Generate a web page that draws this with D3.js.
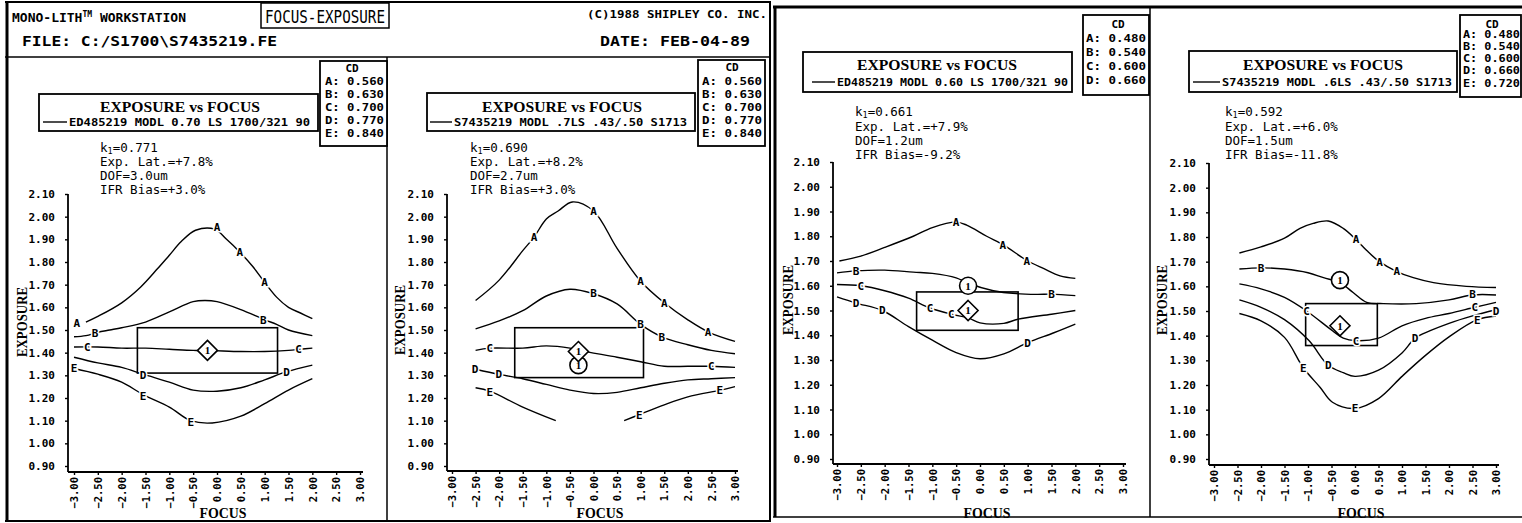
<!DOCTYPE html>
<html>
<head>
<meta charset="utf-8">
<script src="https://cdn.jsdelivr.net/npm/d3@7"></script>
<style>
  body { margin: 0; background: #fff; }
  svg { display: block; }
</style>
</head>
<body>
<div id="chart"></div>
<script>
var width = 1522;
var height = 523;

var monoFont = "'DejaVu Sans Mono', monospace";
var serifFont = "'Liberation Serif', 'DejaVu Serif', serif";

// axis ticks
var focusTicks = [-3, -2.5, -2, -1.5, -1, -0.5, 0, 0.5, 1, 1.5, 2, 2.5, 3];
var exposureTicks = [0.9, 1.0, 1.1, 1.2, 1.3, 1.4, 1.5, 1.6, 1.7, 1.8, 1.9, 2.0, 2.1];

// ---- panel 1 : ED485219 0.70 ----
var p1Legend = "ED485219 MODL 0.70 LS 1700/321 90";
var p1CD = [["A", "0.560"], ["B", "0.630"], ["C", "0.700"], ["D", "0.770"], ["E", "0.840"]];
var p1Stats = ["0.771", "+7.8%", "3.0um", "+3.0%"];
var p1A = [[-2.75,1.535],[-2.5,1.56],[-2,1.62],[-1.6,1.69],[-1.25,1.77],[-1,1.83],[-0.75,1.89],[-0.45,1.94],[-0.05,1.945],[0.2,1.9],[0.45,1.85],[0.75,1.78],[1,1.71],[1.25,1.645],[1.5,1.6],[1.75,1.575],[2,1.55]];
var p1B = [[-3,1.47],[-2.75,1.475],[-2.5,1.49],[-2.25,1.5],[-2,1.51],[-1.5,1.535],[-1,1.58],[-0.5,1.625],[-0.25,1.63],[0,1.625],[0.5,1.59],[1,1.545],[1.25,1.525],[1.5,1.5],[2,1.475]];
var p1C = [[-3,1.425],[-2.5,1.425],[-2,1.42],[-1.5,1.42],[-1,1.415],[-0.5,1.41],[-0.2,1.41],[0.5,1.405],[1,1.405],[1.5,1.41],[1.75,1.415],[2,1.42]];
var p1D = [[-3,1.38],[-2.5,1.355],[-2,1.335],[-1.55,1.305],[-1,1.27],[-0.5,1.235],[0,1.23],[0.5,1.245],[1,1.28],[1.45,1.315],[2,1.345]];
var p1E = [[-3,1.33],[-2.5,1.305],[-2,1.27],[-1.55,1.215],[-1,1.16],[-0.55,1.1],[-0.1,1.09],[0.5,1.12],[1,1.175],[1.5,1.235],[2,1.285]];
var p1Marks = [["A",-2.94,1.531],["A",0,1.955],["A",0.48,1.845],["A",1,1.71],
  ["B",-2.56,1.487],["B",0.97,1.543],["C",-2.72,1.425],["C",1.71,1.415],
  ["D",-1.55,1.3],["D",1.46,1.315],["E",-3,1.33],["E",-1.55,1.21],["E",-0.55,1.095]];
var p1Window = [-1.67, 1.27, 1.31, 1.51];
var p1Diamond = [-0.2, 1.41];
var p1Circle = null;

// ---- panel 2 : S7435219 .7 ----
var p2Legend = "S7435219 MODL .7LS .43/.50 S1713";
var p2CD = [["A", "0.560"], ["B", "0.630"], ["C", "0.700"], ["D", "0.770"], ["E", "0.840"]];
var p2Stats = ["0.690", "+8.2%", "2.7um", "+3.0%"];
var p2A = [[-2.5,1.63],[-2,1.72],[-1.5,1.85],[-1.26,1.91],[-1,1.99],[-0.75,2.025],[-0.45,2.065],[0,2.025],[0.5,1.86],[1,1.715],[1.5,1.62],[2,1.545],[2.45,1.49],[3,1.45]];
var p2B = [[-2.5,1.505],[-2,1.54],[-1.5,1.585],[-1,1.65],[-0.5,1.68],[0,1.66],[0.5,1.615],[1,1.525],[1.45,1.47],[2,1.435],[2.5,1.41],[3,1.395]];
var p2C = [[-2.5,1.41],[-2.2,1.42],[-1.5,1.42],[-1,1.43],[-0.5,1.42],[-0.3,1.41],[0.5,1.38],[1,1.36],[1.5,1.34],[2,1.34],[2.5,1.34],[3,1.335]];
var p2D = [[-2.5,1.327],[-2,1.304],[-1.5,1.285],[-1,1.26],[-0.5,1.235],[0,1.22],[0.5,1.225],[1,1.245],[1.5,1.265],[2,1.28],[2.5,1.285],[3,1.29]];
var p2E1 = [[-2.5,1.245],[-2.2,1.23],[-1.5,1.16],[-0.8,1.1]];
var p2E2 = [[0.65,1.1],[0.95,1.125],[1.5,1.17],[2,1.205],[2.7,1.235],[3,1.25]];
var p2Marks = [["A",-1.26,1.91],["A",0,2.025],["A",1,1.715],["A",1.5,1.62],["A",2.43,1.49],
  ["B",0,1.665],["B",1,1.525],["B",1.45,1.47],["C",-2.2,1.42],["C",2.5,1.34],
  ["D",-2.51,1.327],["D",-2.01,1.304],["E",-2.2,1.228],["E",0.97,1.125],["E",2.68,1.235]];
var p2Window = [-1.67, 1.06, 1.29, 1.51];
var p2Diamond = [-0.32, 1.405];
var p2Circle = [-0.32, 1.345];

// ---- panel 3 : ED485219 0.60 ----
var p3Legend = "ED485219 MODL 0.60 LS 1700/321 90";
var p3CD = [["A", "0.480"], ["B", "0.540"], ["C", "0.600"], ["D", "0.660"]];
var p3Stats = ["0.661", "+7.9%", "1.2um", "-9.2%"];
var p3A = [[-2.95,1.7],[-2.5,1.72],[-2,1.755],[-1.4,1.8],[-1,1.835],[-0.5,1.857],[-0.28,1.845],[0.14,1.8],[0.5,1.764],[0.84,1.72],[1,1.7],[1.33,1.67],[1.68,1.64],[2,1.63]];
var p3B = [[-3,1.652],[-2.6,1.66],[-2,1.663],[-1.4,1.655],[-1,1.65],[-0.5,1.632],[-0.25,1.61],[0.28,1.58],[0.76,1.568],[1.2,1.565],[1.5,1.566],[2,1.56]];
var p3C = [[-3,1.605],[-2.5,1.6],[-2,1.58],[-1.5,1.55],[-1.05,1.51],[-0.6,1.485],[-0.25,1.47],[0,1.45],[0.5,1.448],[0.8,1.465],[1.5,1.485],[2,1.5]];
var p3D = [[-3,1.555],[-2.6,1.53],[-2.05,1.5],[-1.5,1.435],[-1,1.38],[-0.5,1.33],[0,1.305],[0.5,1.325],[1,1.37],[1.55,1.41],[2,1.445]];
var p3Marks = [["A",-0.5,1.857],["A",0.48,1.764],["A",0.98,1.7],["B",-2.6,1.66],["B",1.5,1.566],
  ["C",-2.5,1.6],["C",-1.05,1.51],["C",-0.6,1.485],["D",-2.6,1.53],["D",-2.05,1.5],["D",1,1.37]];
var p3Window = [-1.33, 0.8, 1.42, 1.575];
var p3Diamond = [-0.25, 1.5];
var p3Circle = [-0.25, 1.6];

// ---- panel 4 : S7435219 .6 ----
var p4Legend = "S7435219 MODL .6LS .43/.50 S1713";
var p4CD = [["A", "0.480"], ["B", "0.540"], ["C", "0.600"], ["D", "0.660"], ["E", "0.720"]];
var p4Stats = ["0.592", "+6.0%", "1.5um", "-11.8%"];
var p4A = [[-2.46,1.735],[-2,1.76],[-1.5,1.795],[-1.17,1.835],[-0.89,1.855],[-0.57,1.865],[-0.25,1.835],[0.02,1.79],[0.25,1.745],[0.52,1.7],[0.89,1.66],[1.24,1.635],[1.67,1.615],[2.37,1.6],[3,1.595]];
var p4B = [[-2.46,1.67],[-2,1.675],[-1.5,1.67],[-1,1.655],[-0.67,1.635],[-0.32,1.615],[-0.04,1.575],[0.25,1.535],[0.6,1.53],[1.3,1.53],[2,1.545],[2.5,1.565],[3,1.565]];
var p4C = [[-2.46,1.61],[-2,1.59],[-1.5,1.555],[-1.03,1.5],[-0.48,1.42],[-0.25,1.39],[0.02,1.38],[0.5,1.39],[1,1.44],[1.5,1.47],[2,1.49],[2.55,1.515],[3,1.535]];
var p4D = [[-2.46,1.545],[-2,1.515],[-1.5,1.465],[-0.98,1.38],[-0.57,1.28],[-0.25,1.25],[0,1.235],[0.5,1.26],[1,1.33],[1.28,1.39],[1.6,1.42],[2,1.45],[2.5,1.48],[3,1.505]];
var p4E = [[-2.46,1.49],[-2,1.46],[-1.5,1.393],[-1.1,1.27],[-0.74,1.19],[-0.48,1.13],[0,1.105],[0.5,1.145],[1,1.235],[1.5,1.32],[2,1.395],[2.6,1.465],[3,1.48]];
var p4Marks = [["A",0.02,1.79],["A",0.52,1.7],["A",0.89,1.66],["B",-2,1.675],["B",2.5,1.567],
  ["C",-1.03,1.5],["C",0.02,1.38],["C",2.55,1.515],["D",-0.57,1.28],["D",1.28,1.39],["D",3,1.5],
  ["E",-1.1,1.27],["E",0,1.105],["E",2.6,1.462]];
var p4Window = [-1.05, 0.475, 1.36, 1.53];
var p4Diamond = [-0.32, 1.44];
var p4Circle = [-0.32, 1.625];

var svg = d3.select('#chart').append('svg')
  .attr('width', width).attr('height', height);

svg.append('rect').attr('width', width).attr('height', height).attr('fill', '#fff');

// ---- frames ----
function frameLine(x1, y1, x2, y2, w) {
  svg.append('line')
    .attr('x1', x1).attr('y1', y1).attr('x2', x2).attr('y2', y2)
    .attr('stroke', '#000').attr('stroke-width', w);
}
frameLine(7, 2, 7, 522, 3);      // left frame
frameLine(5, 2, 771, 2, 2);
frameLine(5, 521, 771, 521, 2);
frameLine(770, 2, 770, 522, 2);
frameLine(5, 57, 771, 57, 1.5);  // header separator
frameLine(387, 57, 387, 521, 1.5);
frameLine(775, 7, 775, 517, 3);  // right frame
frameLine(773, 7, 1522, 7, 3);
frameLine(773, 517, 1522, 517, 1.5);
frameLine(1150, 7, 1150, 517, 1.5);

// ---- header of the left sheet ----
var header = svg.append('g').attr('font-family', monoFont).attr('font-weight', 'bold');
var mono = header.append('text').attr('x', 12).attr('y', 22).attr('font-size', 13);
mono.append('tspan').text('MONO-LITH');
mono.append('tspan').attr('font-size', 8).attr('dy', -5).text('TM');
mono.append('tspan').attr('dy', 5).text(' WORKSTATION');
header.append('text').attr('x', 22).attr('y', 46).attr('font-size', 13.5)
  .attr('textLength', 255).attr('lengthAdjust', 'spacingAndGlyphs')
  .text('FILE:  C:/S1700\\S7435219.FE');
header.append('text').attr('x', 600).attr('y', 46).attr('font-size', 13.5)
  .attr('textLength', 150).attr('lengthAdjust', 'spacingAndGlyphs')
  .text('DATE:  FEB-04-89');
header.append('text').attr('x', 587).attr('y', 18).attr('font-size', 10)
  .attr('textLength', 180).attr('lengthAdjust', 'spacingAndGlyphs')
  .text('(C)1988 SHIPLEY CO. INC.');
svg.append('rect').attr('x', 261).attr('y', 3).attr('width', 128).attr('height', 25)
  .attr('fill', 'none').attr('stroke', '#000').attr('stroke-width', 1.5);
svg.append('text').attr('x', 265).attr('y', 23).attr('font-family', monoFont)
  .attr('font-size', 17).attr('textLength', 120).attr('lengthAdjust', 'spacingAndGlyphs')
  .text('FOCUS-EXPOSURE');

// ---- panel layouts (pixels) ----
var layout1 = { yAxisX: 68, xL: 74, xR: 360, yT: 194, yB: 466, axisY: 472, xEnd: 363,
  leg: { x: 39, y: 94, w: 279, h: 37, tx: 180, ty: 112, ly: 122, s0: 43, s1: 67, t0: 69, tl: 241 },
  cd: { x: 320, y: 61, w: 67, h: 85, cx: 352, cy: 72, rows: [85, 98, 111, 124, 137], rx: 325, rl: 59 },
  st: { x: 100, ys: [152, 166, 180, 194] }, ylab: [22, 322], xlab: [223, 518] };
var layout2 = { yAxisX: 447, xL: 452, xR: 735, yT: 194, yB: 466, axisY: 471, xEnd: 738,
  leg: { x: 427, y: 93, w: 268, h: 38, tx: 562, ty: 112, ly: 122, s0: 430, s1: 452, t0: 454, tl: 233 },
  cd: { x: 698, y: 60, w: 67, h: 86, cx: 732, cy: 71, rows: [85, 98, 111, 124, 137], rx: 702, rl: 60 },
  st: { x: 470, ys: [152, 166, 180, 194] }, ylab: [400, 320], xlab: [600, 518] };
var layout3 = { yAxisX: 833, xL: 837, xR: 1123, yT: 162, yB: 459, axisY: 464, xEnd: 1126,
  leg: { x: 803, y: 52, w: 269, h: 40, tx: 937, ty: 70, ly: 82, s0: 812, s1: 835, t0: 837, tl: 231 },
  cd: { x: 1083, y: 15, w: 66, h: 80, cx: 1118, cy: 28, rows: [42, 56, 70, 84], rx: 1086, rl: 60 },
  st: { x: 855, ys: [116, 131, 145, 159] }, ylab: [788, 300], xlab: [987, 518] };
var layout4 = { yAxisX: 1209, xL: 1214, xR: 1496, yT: 163, yB: 459, axisY: 465, xEnd: 1499,
  leg: { x: 1189, y: 51, w: 268, h: 41, tx: 1323, ty: 70, ly: 82, s0: 1193, s1: 1220, t0: 1222, tl: 230 },
  cd: { x: 1460, y: 15, w: 61, h: 82, cx: 1492, cy: 28, rows: [38, 50, 62, 74, 87], rx: 1463, rl: 57 },
  st: { x: 1225, ys: [116, 131, 145, 159] }, ylab: [1162, 300], xlab: [1361, 518] };

function drawPanel(L, curves, marks, win, diamond, circle, legendText, cd, stats) {
  var g = svg.append('g');
  var x = d3.scaleLinear().domain([-3, 3]).range([L.xL, L.xR]);
  var y = d3.scaleLinear().domain([0.9, 2.1]).range([L.yB, L.yT]);

  // y axis
  var ya = g.append('g').attr('transform', 'translate(' + L.yAxisX + ',0)')
    .call(d3.axisLeft(y).tickValues(exposureTicks).tickFormat(d3.format('.2f'))
      .tickSize(3).tickPadding(10));
  ya.select('.domain').remove();
  ya.attr('font-family', monoFont).attr('font-size', 11).attr('font-weight', 'bold');
  ya.selectAll('line').attr('stroke-width', 1.4);
  ya.append('line').attr('x1', 0).attr('x2', 0).attr('y1', L.yT).attr('y2', L.axisY)
    .attr('stroke', '#000').attr('stroke-width', 1.8);

  // x axis
  var xa = g.append('g').attr('transform', 'translate(0,' + L.axisY + ')')
    .call(d3.axisBottom(x).tickValues(focusTicks).tickFormat(d3.format('.2f')).tickSize(3));
  xa.select('.domain').remove();
  xa.attr('font-family', monoFont).attr('font-size', 10.5).attr('font-weight', 'bold');
  xa.selectAll('line').attr('stroke-width', 1.4);
  xa.selectAll('text')
    .attr('transform', 'rotate(-90)')
    .attr('x', -5).attr('y', 0).attr('dy', '0.35em')
    .style('text-anchor', 'end');
  xa.append('line').attr('x1', L.yAxisX).attr('x2', L.xEnd).attr('y1', 0).attr('y2', 0)
    .attr('stroke', '#000').attr('stroke-width', 1.8);

  // axis titles
  g.append('text')
    .attr('transform', 'translate(' + (L.ylab[0] + 5) + ',' + L.ylab[1] + ') rotate(-90)')
    .attr('text-anchor', 'middle').attr('font-family', serifFont).attr('font-weight', 'bold')
    .attr('font-size', 15).attr('textLength', 70).attr('lengthAdjust', 'spacingAndGlyphs')
    .text('EXPOSURE');
  g.append('text').attr('x', L.xlab[0]).attr('y', L.xlab[1])
    .attr('text-anchor', 'middle').attr('font-family', serifFont).attr('font-weight', 'bold')
    .attr('font-size', 15).attr('textLength', 47).attr('lengthAdjust', 'spacingAndGlyphs')
    .text('FOCUS');

  // contour lines
  var line = d3.line()
    .x(function(d) { return x(d[0]); })
    .y(function(d) { return y(d[1]); })
    .curve(d3.curveCatmullRom.alpha(0.5));
  g.selectAll('path.curve')
    .data(curves)
    .enter()
    .append('path')
    .attr('class', 'curve')
    .attr('d', line)
    .attr('fill', 'none')
    .attr('stroke', '#000')
    .attr('stroke-width', 1.4);

  // process window
  g.append('rect')
    .attr('x', x(win[0])).attr('y', y(win[3]))
    .attr('width', x(win[1]) - x(win[0])).attr('height', y(win[2]) - y(win[3]))
    .attr('fill', 'none').attr('stroke', '#000').attr('stroke-width', 1.6);

  // curve letters
  g.selectAll('text.mark')
    .data(marks)
    .enter()
    .append('text')
    .attr('class', 'mark')
    .attr('x', function(d) { return x(d[1]); })
    .attr('y', function(d) { return y(d[2]); })
    .attr('dy', '0.36em')
    .attr('text-anchor', 'middle')
    .attr('font-family', monoFont).attr('font-weight', 'bold').attr('font-size', 11)
    .attr('stroke', '#fff').attr('stroke-width', 3).attr('paint-order', 'stroke')
    .attr('fill', '#000')
    .text(function(d) { return d[0]; });

  // best focus markers
  if (circle) {
    var cx = x(circle[0]), cy = y(circle[1]);
    g.append('circle').attr('cx', cx).attr('cy', cy).attr('r', 8.5)
      .attr('fill', '#fff').attr('stroke', '#000').attr('stroke-width', 1.6);
    g.append('text').attr('x', cx).attr('y', cy).attr('dy', '0.35em')
      .attr('text-anchor', 'middle').attr('font-family', serifFont).attr('font-weight', 'bold')
      .attr('font-size', 11).text('1');
  }
  var dx = x(diamond[0]), dy = y(diamond[1]);
  g.append('path')
    .attr('d', 'M' + dx + ',' + (dy - 10) + 'L' + (dx + 10) + ',' + dy + 'L' + dx + ',' + (dy + 10) + 'L' + (dx - 10) + ',' + dy + 'Z')
    .attr('fill', '#fff').attr('stroke', '#000').attr('stroke-width', 1.6);
  g.append('text').attr('x', dx).attr('y', dy).attr('dy', '0.35em')
    .attr('text-anchor', 'middle').attr('font-family', serifFont).attr('font-weight', 'bold')
    .attr('font-size', 11).text('1');

  // legend box
  g.append('rect').attr('x', L.leg.x).attr('y', L.leg.y).attr('width', L.leg.w).attr('height', L.leg.h)
    .attr('fill', '#fff').attr('stroke', '#000').attr('stroke-width', 1.8);
  g.append('text').attr('x', L.leg.tx).attr('y', L.leg.ty).attr('text-anchor', 'middle')
    .attr('font-family', serifFont).attr('font-weight', 'bold').attr('font-size', 15.5)
    .attr('textLength', 160).attr('lengthAdjust', 'spacingAndGlyphs')
    .text('EXPOSURE vs FOCUS');
  g.append('line').attr('x1', L.leg.s0).attr('x2', L.leg.s1).attr('y1', L.leg.ly).attr('y2', L.leg.ly)
    .attr('stroke', '#000').attr('stroke-width', 1.4);
  g.append('text').attr('x', L.leg.t0).attr('y', L.leg.ly + 4)
    .attr('font-family', monoFont).attr('font-weight', 'bold').attr('font-size', 11)
    .attr('textLength', L.leg.tl).attr('lengthAdjust', 'spacingAndGlyphs')
    .text(legendText);

  // CD box
  g.append('rect').attr('x', L.cd.x).attr('y', L.cd.y).attr('width', L.cd.w).attr('height', L.cd.h)
    .attr('fill', '#fff').attr('stroke', '#000').attr('stroke-width', 1.8);
  g.append('text').attr('x', L.cd.cx).attr('y', L.cd.cy).attr('text-anchor', 'middle')
    .attr('font-family', monoFont).attr('font-weight', 'bold').attr('font-size', 11)
    .text('CD');
  g.selectAll('text.cd')
    .data(cd)
    .enter()
    .append('text')
    .attr('class', 'cd')
    .attr('x', L.cd.rx)
    .attr('y', function(d, i) { return L.cd.rows[i]; })
    .attr('font-family', monoFont).attr('font-weight', 'bold').attr('font-size', 11)
    .attr('textLength', L.cd.rl).attr('lengthAdjust', 'spacingAndGlyphs')
    .text(function(d) { return d[0] + ': ' + d[1]; });

  // k1 / latitude / DOF / bias
  var st = g.append('g').attr('font-family', monoFont).attr('font-size', 12.5);
  var k = st.append('text').attr('x', L.st.x).attr('y', L.st.ys[0]);
  k.append('tspan').text('k');
  k.append('tspan').attr('font-size', 8.5).attr('dy', 2).text('1');
  k.append('tspan').attr('dy', -2).text('=' + stats[0]);
  st.append('text').attr('x', L.st.x).attr('y', L.st.ys[1]).text('Exp. Lat.=' + stats[1]);
  st.append('text').attr('x', L.st.x).attr('y', L.st.ys[2]).text('DOF=' + stats[2]);
  st.append('text').attr('x', L.st.x).attr('y', L.st.ys[3]).text('IFR Bias=' + stats[3]);
}

drawPanel(layout1, [p1A, p1B, p1C, p1D, p1E], p1Marks, p1Window, p1Diamond, p1Circle, p1Legend, p1CD, p1Stats);
drawPanel(layout2, [p2A, p2B, p2C, p2D, p2E1, p2E2], p2Marks, p2Window, p2Diamond, p2Circle, p2Legend, p2CD, p2Stats);
drawPanel(layout3, [p3A, p3B, p3C, p3D], p3Marks, p3Window, p3Diamond, p3Circle, p3Legend, p3CD, p3Stats);
drawPanel(layout4, [p4A, p4B, p4C, p4D, p4E], p4Marks, p4Window, p4Diamond, p4Circle, p4Legend, p4CD, p4Stats);
</script>
</body>
</html>
